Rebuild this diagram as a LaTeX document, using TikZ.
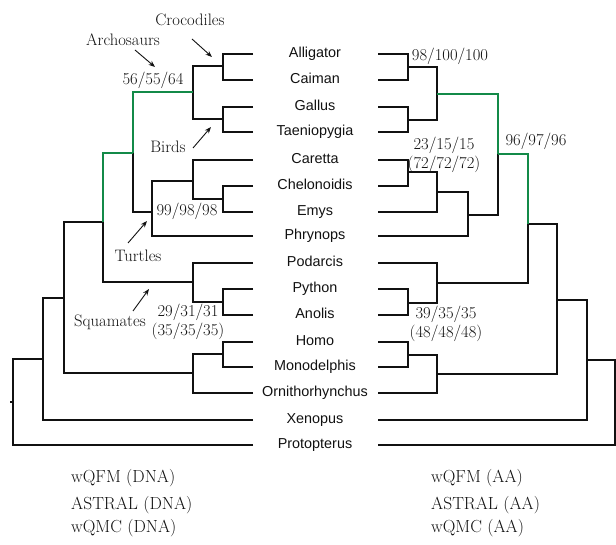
\documentclass[tikz,border=0pt]{standalone}
\usepackage{fontspec}
\newfontfamily\taxfont{Liberation Sans}
\usetikzlibrary{arrows.meta}
\definecolor{ink}{HTML}{111111}
\definecolor{clade}{HTML}{138A48}
\tikzset{
  >=Stealth,
  branch/.style={draw=ink, line width=2.7pt, line join=miter},
  hot/.style={branch, draw=clade},
  taxon/.style={font=\taxfont\fontsize{14.4}{16}\selectfont, text=ink, inner sep=0pt, text height=10.5pt, text depth=3pt},
  lab/.style={font=\fontsize{16.6}{19}\selectfont, text=ink, inner sep=0pt, align=center},
  meth/.style={font=\fontsize{17.5}{20}\selectfont, text=ink, inner sep=0pt, anchor=west},
  pointer/.style={-{Stealth[length=6.5pt,width=5pt]}, line width=0.9pt, draw=ink},
}
% taxa and the height of their leaf
\def\taxaList{Alligator/54, Caiman/80, Gallus/107, Taeniopygia/132, Caretta/160, Chelonoidis/186, Emys/212, Phrynops/236, Podarcis/263, Python/289, Anolis/315, Homo/342, Monodelphis/367, Ornithorhynchus/393, Xenopus/420, Protopterus/445}
% inner nodes, DNA tree (left) and AA tree (right)
\def\leftInner{lCro/223/66, lBir/223/119, lArc/193/92, lCE/223/199, lCCE/193/181, lTur/152/212, lAT/133/153, lPA/223/302, lSqu/193/282, lSau/103/222, lHM/223/354, lMam/193/373, lAmn/64/298, lTet/43/359, lRoot/13/402, lStub/10/402}
\def\rightInner{rCro/408/67, rBir/408/120, rArc/437/94, rCC/408/172, rCCE/437/192, rTur/468/215, rAT/498/154, rPA/408/303, rSqu/437/283, rSau/528/224, rHM/408/355, rMam/437/374, rAmn/557/300, rTet/587/360, rRoot/615/402}
\def\leftEdges{Alligator-l/lCro, Caiman-l/lCro, Gallus-l/lBir, Taeniopygia-l/lBir, lCro/lArc, lBir/lArc, Chelonoidis-l/lCE, Emys-l/lCE, Caretta-l/lCCE, lCE/lCCE, lCCE/lTur, Phrynops-l/lTur, lTur/lAT, Python-l/lPA, Anolis-l/lPA, Podarcis-l/lSqu, lPA/lSqu, lSqu/lSau, Homo-l/lHM, Monodelphis-l/lHM, lHM/lMam, Ornithorhynchus-l/lMam, lSau/lAmn, lMam/lAmn, lAmn/lTet, Xenopus-l/lTet, lTet/lRoot, Protopterus-l/lRoot}
\def\rightEdges{Alligator-r/rCro, Caiman-r/rCro, Gallus-r/rBir, Taeniopygia-r/rBir, rCro/rArc, rBir/rArc, Caretta-r/rCC, Chelonoidis-r/rCC, rCC/rCCE, Emys-r/rCCE, rCCE/rTur, Phrynops-r/rTur, rTur/rAT, Python-r/rPA, Anolis-r/rPA, Podarcis-r/rSqu, rPA/rSqu, rSqu/rSau, Homo-r/rHM, Monodelphis-r/rHM, rHM/rMam, Ornithorhynchus-r/rMam, rSau/rAmn, rMam/rAmn, rAmn/rTet, Xenopus-r/rTet, rTet/rRoot, Protopterus-r/rRoot}
\def\hotEdges{lArc/lAT, lAT/lSau, rArc/rAT, rAT/rSau}
\def\pointerList{croc/192/39/212/57, arch/135/50/155/67, bird/193/148/211/127, turt/128/243/147/221, squa/133/311/149/289}

\begin{document}
\begin{tikzpicture}[x=1pt, y=-1pt]
  \useasboundingbox (0,0) rectangle (616,545);
  \foreach \t/\y in \taxaList {
    \node[taxon] (\t) at (315,\y) {\t};
    \coordinate (\t-l) at (253,\y);
    \coordinate (\t-r) at (378,\y);
  }
  \foreach \n/\x/\y in \leftInner {\coordinate (\n) at (\x,\y);}
  \foreach \n/\x/\y in \rightInner {\coordinate (\n) at (\x,\y);}
  % branches
  \foreach \c/\p in \leftEdges {\draw[branch] (\c) -| (\p);}
  \foreach \c/\p in \rightEdges {\draw[branch] (\c) -| (\p);}
  \foreach \c/\p in \hotEdges {\draw[hot] (\c) -| (\p);}
  \draw[branch] (lRoot) -- (lStub);
  % clade names
  \node[lab] (crocLab) at (190,20) {Crocodiles};
  \node[lab] (archLab) at (123,40) {Archosaurs};
  \node[lab] (birdLab) at (168,147) {Birds};
  \node[lab] (turtLab) at (138,256) {Turtles};
  \node[lab] (squaLab) at (110,322) {Squamates};
  \foreach \n/\xa/\ya/\xb/\yb in \pointerList {
    \coordinate (\n-a) at (\xa,\ya);
    \coordinate (\n-b) at (\xb,\yb);
    \draw[pointer] (\n-a) -- (\n-b);
  }
  % support values
  \node[lab] (sArcL) at (153,80) {56/55/64};
  \node[lab] (sTurL) at (187,211) {99/98/98};
  \node[lab] (sPAL) at (188,322) {29/31/31\\(35/35/35)};
  \node[lab] (sCroR) at (450,56) {98/100/100};
  \node[lab] (sCCR) at (444,155) {23/15/15\\(72/72/72)};
  \node[lab] (sATR) at (536,141) {96/97/96};
  \node[lab] (sPAR) at (446,324) {39/35/35\\(48/48/48)};
  % methods
  \foreach \m/\y in {wQFM/478, ASTRAL/505, wQMC/528} {
    \node[meth] (\m-dna) at (71,\y) {\m{} (DNA)};
    \node[meth] (\m-aa) at (431,\y) {\m{} (AA)};
  }
\end{tikzpicture}
\end{document}
